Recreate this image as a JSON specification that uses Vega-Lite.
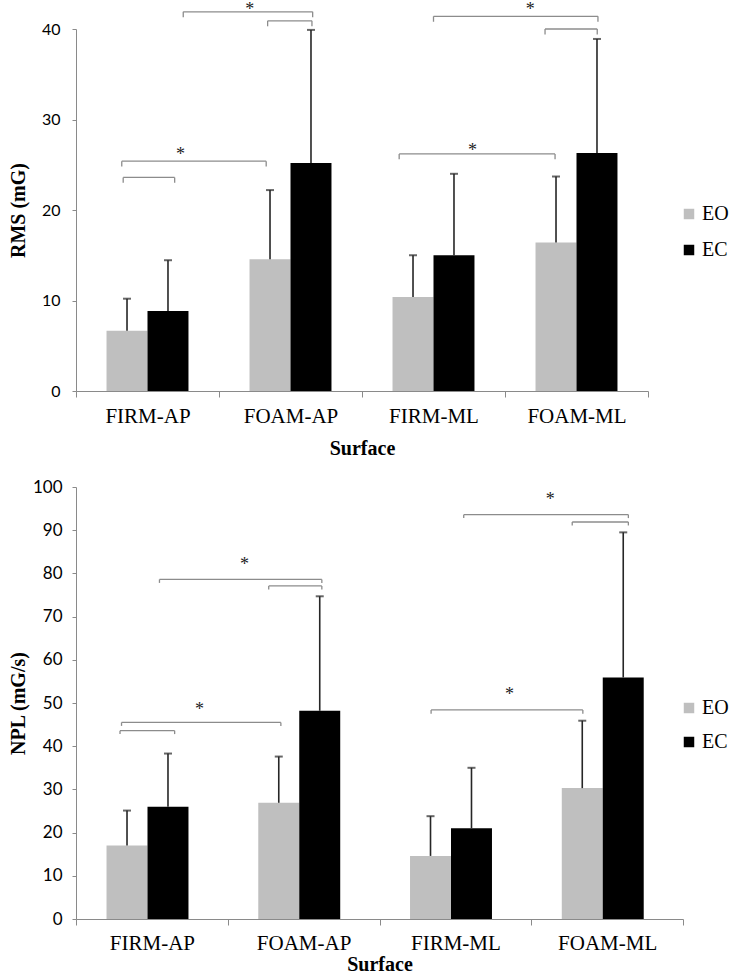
{
  "$schema": "https://vega.github.io/schema/vega-lite/v6.json",
  "padding": {"left": 8, "top": 0, "right": 0, "bottom": 0},
  "bounds": "flush",
  "spacing": 96,
  "background": "white",
  "config": {
    "view": {"stroke": null},
    "axis": {"domainColor": "#8a8a8a", "tickColor": "#8a8a8a", "grid": false, "labelColor": "#000", "titleColor": "#000"}
  },
  "datasets": {
    "rms": [
      {"surface": "FIRM-AP", "cond": "EO", "mean": 6.65, "upper": 10.2},
      {"surface": "FIRM-AP", "cond": "EC", "mean": 8.85, "upper": 14.45},
      {"surface": "FOAM-AP", "cond": "EO", "mean": 14.55, "upper": 22.2},
      {"surface": "FOAM-AP", "cond": "EC", "mean": 25.2, "upper": 39.9},
      {"surface": "FIRM-ML", "cond": "EO", "mean": 10.4, "upper": 15.0},
      {"surface": "FIRM-ML", "cond": "EC", "mean": 15.0, "upper": 24.0},
      {"surface": "FOAM-ML", "cond": "EO", "mean": 16.4, "upper": 23.7},
      {"surface": "FOAM-ML", "cond": "EC", "mean": 26.3, "upper": 38.9}
    ],
    "npl": [
      {"surface": "FIRM-AP", "cond": "EO", "mean": 17.0, "upper": 25.1},
      {"surface": "FIRM-AP", "cond": "EC", "mean": 26.0, "upper": 38.3},
      {"surface": "FOAM-AP", "cond": "EO", "mean": 26.9, "upper": 37.6},
      {"surface": "FOAM-AP", "cond": "EC", "mean": 48.2, "upper": 74.7},
      {"surface": "FIRM-ML", "cond": "EO", "mean": 14.6, "upper": 23.8},
      {"surface": "FIRM-ML", "cond": "EC", "mean": 21.0, "upper": 35.0},
      {"surface": "FOAM-ML", "cond": "EO", "mean": 30.3, "upper": 45.9},
      {"surface": "FOAM-ML", "cond": "EC", "mean": 55.9, "upper": 89.5}
    ],
    "rmsBr": [
      {"xl": 0.33, "xr": 0.69, "yt": 23.6, "yd": 23.0},
      {"xl": 0.32, "xr": 1.33, "yt": 25.4, "yd": 24.8},
      {"xl": 1.34, "xr": 1.65, "yt": 40.9, "yd": 40.3},
      {"xl": 0.75, "xr": 1.655, "yt": 41.9, "yd": 41.3},
      {"xl": 2.26, "xr": 3.35, "yt": 26.2, "yd": 25.6},
      {"xl": 2.5, "xr": 3.65, "yt": 41.4, "yd": 40.8},
      {"xl": 3.28, "xr": 3.645, "yt": 40.0, "yd": 39.4}
    ],
    "rmsStar": [
      {"x": 0.73, "y": 25.55, "label": "*"},
      {"x": 1.215, "y": 41.6, "label": "*"},
      {"x": 2.772, "y": 25.97, "label": "*"},
      {"x": 3.177, "y": 41.5, "label": "*"}
    ],
    "nplBr": [
      {"xl": 0.29, "xr": 0.65, "yt": 43.6, "yd": 42.8},
      {"xl": 0.3, "xr": 1.35, "yt": 45.5, "yd": 44.7},
      {"xl": 0.55, "xr": 1.62, "yt": 78.6, "yd": 77.8},
      {"xl": 1.27, "xr": 1.62, "yt": 77.1, "yd": 76.3},
      {"xl": 2.34, "xr": 3.34, "yt": 48.4, "yd": 47.5},
      {"xl": 2.555, "xr": 3.64, "yt": 93.6, "yd": 92.8},
      {"xl": 3.27, "xr": 3.64, "yt": 91.9, "yd": 91.1}
    ],
    "nplStar": [
      {"x": 0.814, "y": 47.2, "label": "*"},
      {"x": 1.11, "y": 80.9, "label": "*"},
      {"x": 2.857, "y": 50.6, "label": "*"},
      {"x": 3.126, "y": 95.8, "label": "*"}
    ]
  },
  "resolve": {"scale": {"color": "independent"}, "legend": {"color": "independent"}},
  "vconcat": [
    {
      "width": 572,
      "height": 362,
      "resolve": {"scale": {"x": "independent"}},
      "encoding": {
        "y": {"type": "quantitative", "scale": {"domain": [0, 40], "nice": false}, "title": "RMS (mG)",
          "axis": {"values": [0, 10, 20, 30, 40], "tickSize": 4, "labelFont": "Lato", "labelFontSize": 16, "labelPadding": 12, "titleFont": "Liberation Serif, Times New Roman, serif", "titleFontSize": 20, "titleFontWeight": "bold", "titleX": -48}}
      },
      "layer": [
        {
          "data": {"name": "rms"},
          "encoding": {
            "x": {"field": "surface", "type": "nominal", "sort": ["FIRM-AP", "FOAM-AP", "FIRM-ML", "FOAM-ML"], "scale": {"paddingInner": 0, "paddingOuter": 0}, "title": "Surface",
              "axis": {"labelAngle": 0, "tickBand": "extent", "tickSize": 6, "labelFont": "Liberation Serif, Times New Roman, serif", "labelFontSize": 21, "labelPadding": 8, "titleFont": "Liberation Serif, Times New Roman, serif", "titleFontSize": 20, "titleFontWeight": "bold", "titlePadding": 12}},
            "xOffset": {"field": "cond", "type": "nominal", "sort": ["EO", "EC"], "scale": {"paddingInner": 0, "paddingOuter": 0.745}}
          },
          "layer": [
            {
              "mark": {"type": "bar"},
              "encoding": {
                "y": {"field": "mean"},
                "color": {"field": "cond", "type": "nominal", "sort": ["EO", "EC"], "scale": {"domain": ["EO", "EC"], "range": ["#bfbfbf", "#000000"]},
                  "legend": {"orient": "none", "legendX": 603, "legendY": 175, "title": null, "symbolType": "square", "symbolSize": 110, "symbolStrokeWidth": 0, "labelFont": "Liberation Serif, Times New Roman, serif", "labelFontSize": 20, "labelOffset": 3, "rowPadding": 16, "padding": 0}}
              }
            },
            {
              "mark": {"type": "rule", "color": "#262626", "strokeWidth": 1.6},
              "encoding": {"y": {"field": "mean"}, "y2": {"field": "upper"}}
            },
            {
              "mark": {"type": "tick", "orient": "horizontal", "color": "#262626", "size": 8, "thickness": 2},
              "encoding": {"y": {"field": "upper"}}
            }
          ]
        },
        {
          "encoding": {
            "x": {"type": "quantitative", "scale": {"domain": [0, 4], "nice": false, "zero": false}, "axis": null}
          },
          "layer": [
            {
              "data": {"name": "rmsBr"},
              "mark": {"type": "rule", "color": "#8c8c8c", "strokeWidth": 1.3},
              "encoding": {"x": {"field": "xl"}, "x2": {"field": "xr"}, "y": {"field": "yt"}}
            },
            {
              "data": {"name": "rmsBr"},
              "mark": {"type": "rule", "color": "#8c8c8c", "strokeWidth": 1.3},
              "encoding": {"x": {"field": "xl"}, "y": {"field": "yt"}, "y2": {"field": "yd"}}
            },
            {
              "data": {"name": "rmsBr"},
              "mark": {"type": "rule", "color": "#8c8c8c", "strokeWidth": 1.3},
              "encoding": {"x": {"field": "xr"}, "y": {"field": "yt"}, "y2": {"field": "yd"}}
            },
            {
              "data": {"name": "rmsStar"},
              "mark": {"type": "text", "font": "Liberation Serif, Times New Roman, serif", "fontSize": 18, "baseline": "alphabetic", "align": "center", "color": "#222"},
              "encoding": {"x": {"field": "x"}, "y": {"field": "y"}, "text": {"field": "label"}}
            }
          ]
        }
      ]
    },
    {
      "width": 607,
      "height": 432,
      "resolve": {"scale": {"x": "independent"}},
      "encoding": {
        "y": {"type": "quantitative", "scale": {"domain": [0, 100], "nice": false}, "title": "NPL (mG/s)",
          "axis": {"values": [0, 10, 20, 30, 40, 50, 60, 70, 80, 90, 100], "tickSize": 4, "labelFont": "Lato", "labelFontSize": 17, "labelPadding": 10, "titleFont": "Liberation Serif, Times New Roman, serif", "titleFontSize": 20, "titleFontWeight": "bold", "titleX": -48}}
      },
      "layer": [
        {
          "data": {"name": "npl"},
          "encoding": {
            "x": {"field": "surface", "type": "nominal", "sort": ["FIRM-AP", "FOAM-AP", "FIRM-ML", "FOAM-ML"], "scale": {"paddingInner": 0, "paddingOuter": 0}, "title": "Surface",
              "axis": {"labelAngle": 0, "tickBand": "extent", "tickSize": 6, "labelFont": "Liberation Serif, Times New Roman, serif", "labelFontSize": 21, "labelPadding": 7, "titleFont": "Liberation Serif, Times New Roman, serif", "titleFontSize": 20, "titleFontWeight": "bold", "titlePadding": 1}},
            "xOffset": {"field": "cond", "type": "nominal", "sort": ["EO", "EC"], "scale": {"paddingInner": 0, "paddingOuter": 0.748}}
          },
          "layer": [
            {
              "mark": {"type": "bar"},
              "encoding": {
                "y": {"field": "mean"},
                "color": {"field": "cond", "type": "nominal", "sort": ["EO", "EC"], "scale": {"domain": ["EO", "EC"], "range": ["#bfbfbf", "#000000"]},
                  "legend": {"orient": "none", "legendX": 603, "legendY": 211, "title": null, "symbolType": "square", "symbolSize": 110, "symbolStrokeWidth": 0, "labelFont": "Liberation Serif, Times New Roman, serif", "labelFontSize": 20, "labelOffset": 3, "rowPadding": 14, "padding": 0}}
              }
            },
            {
              "mark": {"type": "rule", "color": "#262626", "strokeWidth": 1.6},
              "encoding": {"y": {"field": "mean"}, "y2": {"field": "upper"}}
            },
            {
              "mark": {"type": "tick", "orient": "horizontal", "color": "#262626", "size": 8, "thickness": 2},
              "encoding": {"y": {"field": "upper"}}
            }
          ]
        },
        {
          "encoding": {
            "x": {"type": "quantitative", "scale": {"domain": [0, 4], "nice": false, "zero": false}, "axis": null}
          },
          "layer": [
            {
              "data": {"name": "nplBr"},
              "mark": {"type": "rule", "color": "#8c8c8c", "strokeWidth": 1.3},
              "encoding": {"x": {"field": "xl"}, "x2": {"field": "xr"}, "y": {"field": "yt"}}
            },
            {
              "data": {"name": "nplBr"},
              "mark": {"type": "rule", "color": "#8c8c8c", "strokeWidth": 1.3},
              "encoding": {"x": {"field": "xl"}, "y": {"field": "yt"}, "y2": {"field": "yd"}}
            },
            {
              "data": {"name": "nplBr"},
              "mark": {"type": "rule", "color": "#8c8c8c", "strokeWidth": 1.3},
              "encoding": {"x": {"field": "xr"}, "y": {"field": "yt"}, "y2": {"field": "yd"}}
            },
            {
              "data": {"name": "nplStar"},
              "mark": {"type": "text", "font": "Liberation Serif, Times New Roman, serif", "fontSize": 18, "baseline": "alphabetic", "align": "center", "color": "#222"},
              "encoding": {"x": {"field": "x"}, "y": {"field": "y"}, "text": {"field": "label"}}
            }
          ]
        }
      ]
    }
  ]
}
